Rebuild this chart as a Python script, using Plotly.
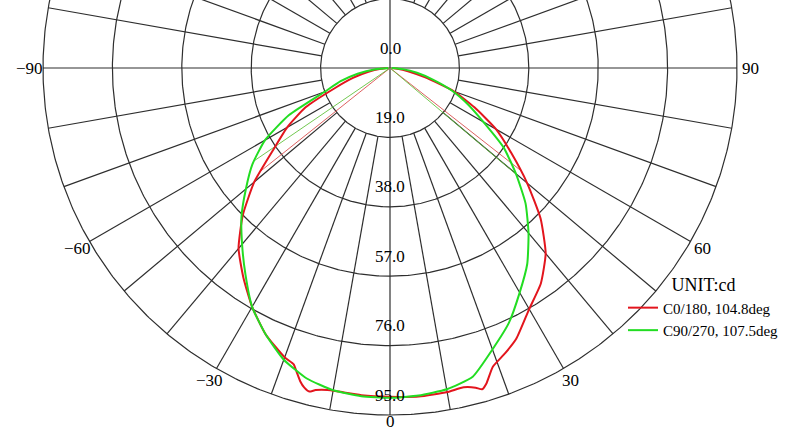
import numpy as np
import plotly.graph_objects as go

# luminous intensity, cd, gamma angle in degrees (0 = straight down)
C0_ANGLES = [-90, -85, -80, -75, -70, -65, -60, -55, -50, -45, -40, -35, -30, -25,
             -20, -18, -17, -16, -15, -14, -13, -11, -9, -5, 0, 5, 10, 13, 15, 16,
             17, 19, 22, 25, 30, 35, 40, 45, 50, 55, 60, 65, 70, 75, 80, 85, 90]
C0_VALUES = [0.5, 2.5, 6.0, 10.5, 16.0, 25.5, 32.5, 39.0, 48.5, 57.0, 64.5, 70.0, 75.5, 80.5,
             84.3, 85.3, 87.2, 89.2, 90.6, 91.3, 90.5, 89.8, 89.7, 89.9, 90.0, 90.3, 90.1, 89.7, 90.6, 91.5,
             90.3, 86.5, 84.2, 81.8, 76.2, 72.0, 66.3, 58.3, 49.0, 40.5, 33.5, 25.5, 18.5, 10.0, 5.0, 2.0, 0.5]

C90_ANGLES = [-90, -85, -80, -75, -70, -65, -60, -55, -50, -45, -40, -35, -30, -25, -20,
              -15, -10, -5, 0, 5, 10, 15, 20, 25, 30, 35, 40, 45, 50, 55, 60, 65, 70,
              75, 80, 85, 90]
C90_VALUES = [0.5, 4.0, 9.0, 14.0, 19.0, 30.5, 39.5, 46.0, 51.5, 57.5, 63.0, 69.0, 75.5, 80.5, 85.0,
              88.0, 89.6, 90.2, 90.3, 90.0, 89.3, 87.5, 82.0, 77.0, 71.0, 65.5, 59.0, 52.5, 45.0, 38.0, 29.5, 23.5, 18.0,
              12.0, 7.5, 3.5, 0.5]

RING_VALUES = [19.0, 38.0, 57.0, 76.0, 95.0]
RING_LABELS = ["0.0", "19.0", "38.0", "57.0", "76.0", "95.0"]
SPOKE_ANGLES = list(range(-180, 180, 10))
ANGLE_TICKS = [-90, -60, -30, 0, 30, 60, 90]
ANGLE_LABELS = ["\u221290", "\u221260", "\u221230", "0", "30", "60", "90"]

SERIES = [
    ("C0/180, 104.8deg", C0_ANGLES, C0_VALUES, "#e3151d", "rgba(215,70,70,0.85)"),
    ("C90/270, 107.5deg", C90_ANGLES, C90_VALUES, "#22dd22", "rgba(90,190,50,0.85)"),
]

GRID = "#2e2e2e"
FONT = "Liberation Serif, Times New Roman, serif"

W, H = 793, 435
CX, CY = 390, 68           # pole position in pixels
PX = 347 / RING_VALUES[-1]  # pixels per cd


def to_xy(theta, r):
    t = np.radians(np.asarray(theta, dtype=float))
    r = np.asarray(r, dtype=float)
    return r * np.sin(t), -r * np.cos(t)


fig = go.Figure()

# rings
circle = np.linspace(0, 360, 721)
for rv in RING_VALUES:
    x, y = to_xy(circle, np.full_like(circle, rv))
    fig.add_trace(go.Scatter(x=x, y=y, mode="lines", line=dict(color=GRID, width=1.2),
                             hoverinfo="skip", showlegend=False))

# spokes: main axes go through the pole, the others start at the first ring
sx, sy = [], []
for a in SPOKE_ANGLES:
    r0 = 0 if a % 90 == 0 else RING_VALUES[0]
    x, y = to_xy([a, a], [r0, RING_VALUES[-1]])
    sx += list(x) + [None]
    sy += list(y) + [None]
fig.add_trace(go.Scatter(x=sx, y=sy, mode="lines", line=dict(color=GRID, width=1.2),
                         hoverinfo="skip", showlegend=False))

# beam angle lines (50 % of peak) and curves
for name, angs, vals, color, thin in SERIES:
    angs = np.array(angs, dtype=float)
    vals = np.array(vals, dtype=float)
    half = vals.max() / 2
    left = angs <= -30
    right = angs >= 30
    a_left = np.interp(half, vals[left], angs[left])
    a_right = np.interp(half, vals[right][::-1], angs[right][::-1])
    bx, by = [], []
    for a in (a_left, a_right):
        x, y = to_xy([a, a], [0, half])
        bx += list(x) + [None]
        by += list(y) + [None]
    fig.add_trace(go.Scatter(x=bx, y=by, mode="lines", line=dict(color=thin, width=1),
                             hoverinfo="skip", showlegend=False))

for name, angs, vals, color, thin in SERIES:
    x, y = to_xy(angs, vals)
    fig.add_trace(go.Scatter(x=x, y=y, mode="lines", name=name,
                             line=dict(color=color, width=2, shape="spline", smoothing=0.5)))

# radial labels, drawn just above each ring on the vertical axis
for val, lab in zip([0.0] + RING_VALUES, RING_LABELS):
    fig.add_annotation(x=0, y=-val, text=lab, showarrow=False, yshift=20,
                       font=dict(family=FONT, size=17, color="#000000"))

# angle labels outside the outer ring (the bottom one sits a bit closer)
for a, lab in zip(ANGLE_TICKS, ANGLE_LABELS):
    x, y = to_xy(a, RING_VALUES[-1] * (1.02 if a == 0 else 1.04))
    fig.add_annotation(x=float(x), y=float(y), text=lab, showarrow=False,
                       font=dict(family=FONT, size=17, color="#000000"))

fig.update_layout(
    width=W,
    height=H,
    margin=dict(l=0, r=0, t=0, b=0),
    paper_bgcolor="#ffffff",
    plot_bgcolor="#ffffff",
    font=dict(family=FONT, color="#000000"),
    legend=dict(
        title=dict(text="UNIT:cd", side="top center", font=dict(family=FONT, size=18)),
        font=dict(family=FONT, size=15, color="#000000"),
        x=623 / W, xanchor="left",
        y=1 - 268 / H, yanchor="top",
        bgcolor="rgba(0,0,0,0)",
        tracegroupgap=0,
    ),
)
fig.update_xaxes(range=[-CX / PX, (W - CX) / PX], visible=False, fixedrange=True)
fig.update_yaxes(range=[-(H - CY) / PX, CY / PX], visible=False, fixedrange=True)

fig.write_html("out.html", config={"displayModeBar": False},
               post_script="document.body.style.margin = '0';")
